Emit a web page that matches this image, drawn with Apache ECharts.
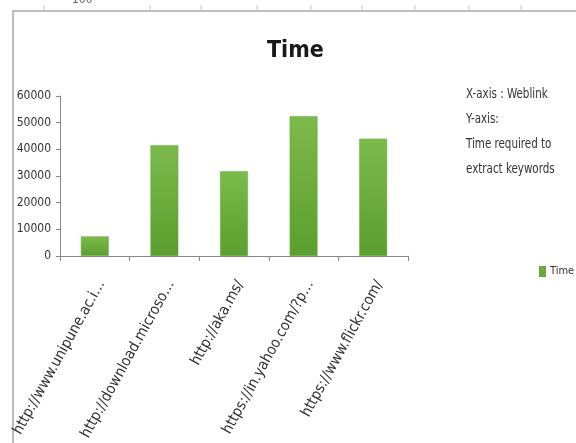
<!DOCTYPE html>
<html>
<head>
<meta charset="utf-8">
<script src="https://cdn.jsdelivr.net/npm/echarts@6/dist/echarts.min.js"></script>
<style>
  html, body { margin: 0; padding: 0; background: #fff; }
  #chart { width: 576px; height: 443px; }
</style>
</head>
<body>
<div id="chart"></div>
<script>
// Time taken to extract keywords per weblink
const categories = [
  'http://www.unipune.ac.i\u2026',
  'http://download.microso\u2026',
  'http://aka.ms/',
  'https://in.yahoo.com/?p\u2026',
  'https://www.flickr.com/'
];
const timeValues = [7300, 41500, 31800, 52400, 44000];
const yTicks = { min: 0, max: 60000, interval: 10000 };
const notes = ['X-axis : Weblink', 'Y-axis:', 'Time required to', 'extract keywords'];

const FONT = '"DejaVu Sans Condensed", "Liberation Sans Narrow", sans-serif';
const chart = echarts.init(document.getElementById('chart'), null, { renderer: 'canvas' });

// ruler marks along the top frame edge
const rulerX = [44, 150, 201, 257, 311, 362, 415, 469, 521];
const rulerMarks = rulerX.map(x => ({
  type: 'line',
  shape: { x1: x, y1: 5, x2: x, y2: 11 },
  style: { stroke: '#c8c8c8', lineWidth: 1 }
}));

chart.setOption({
  backgroundColor: '#ffffff',
  animation: false,
  textStyle: { fontFamily: FONT },
  title: {
    text: 'Time',
    left: 262,
    top: 35,
    textStyle: { fontFamily: FONT, fontSize: 23, fontWeight: 'bold', color: '#1a1a1a' }
  },
  legend: {
    data: ['Time'],
    icon: 'rect',
    left: 534,
    top: 261,
    itemWidth: 5,
    itemHeight: 9,
    itemGap: 4,
    textStyle: { fontFamily: FONT, fontSize: 11, color: '#333' }
  },
  grid: { left: 60, right: 168, top: 96, bottom: 186, containLabel: false },
  xAxis: {
    type: 'category',
    data: categories,
    axisLine: { lineStyle: { color: '#888', width: 1 } },
    axisTick: { show: true, length: 5, lineStyle: { color: '#888' } },
    axisLabel: {
      interval: 0,
      rotate: 61,
      margin: 22,
      verticalAlign: 'top',
      fontFamily: FONT,
      fontSize: 15,
      color: '#333'
    }
  },
  yAxis: {
    type: 'value',
    min: yTicks.min,
    max: yTicks.max,
    interval: yTicks.interval,
    axisLine: { show: true, lineStyle: { color: '#888', width: 1 } },
    axisTick: { show: true, length: 4, lineStyle: { color: '#888' } },
    splitLine: { show: false },
    axisLabel: {
      fontFamily: FONT, fontSize: 12, color: '#333', margin: 9,
      formatter: v => String(v)
    }
  },
  series: [{
    name: 'Time',
    type: 'bar',
    data: timeValues,
    barWidth: '40%',
    itemStyle: {
      color: new echarts.graphic.LinearGradient(0, 0, 0, 1, [
        { offset: 0, color: '#7cba4c' },
        { offset: 1, color: '#5b9f2e' }
      ]),
      borderColor: '#6aa83f',
      borderWidth: 0.5
    }
  }],
  graphic: [
    {
      type: 'polyline',
      shape: { points: [[13, 443], [13, 11], [576, 11]] },
      style: { stroke: '#a8a8a8', lineWidth: 1.5, fill: null }
    },
    ...rulerMarks,
    {
      type: 'text',
      left: 72,
      top: -6,
      style: { text: '100', fontFamily: FONT, fontSize: 12, fill: '#666' }
    },
    {
      type: 'text',
      x: 466,
      y: 82,
      scaleX: 0.82,
      style: {
        text: notes.join('\n'),
        fontFamily: FONT,
        fontSize: 14,
        lineHeight: 25,
        fill: '#333'
      }
    }
  ]
});
</script>
</body>
</html>
